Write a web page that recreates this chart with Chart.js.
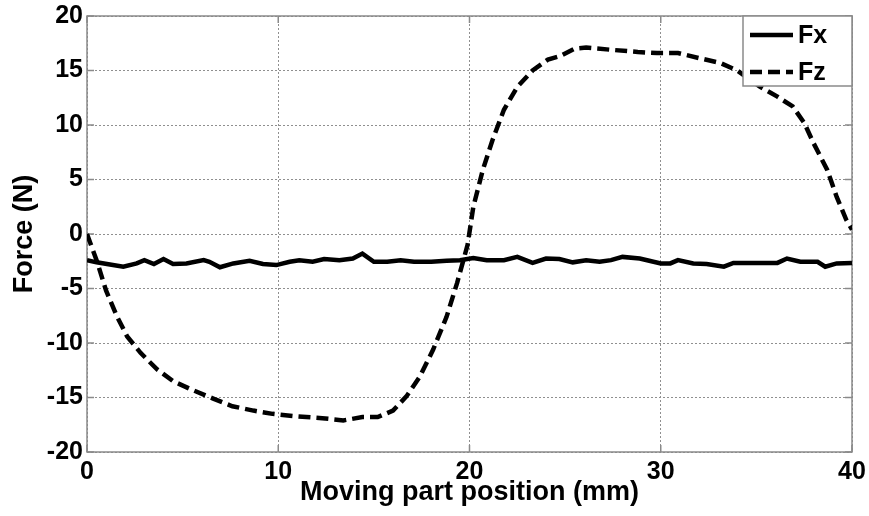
<!DOCTYPE html>
<html>
<head>
<meta charset="utf-8">
<script src="https://cdn.jsdelivr.net/npm/chart.js@4.4.1/dist/chart.umd.min.js"></script>
<style>
    html, body { margin: 0; padding: 0; background: #fff; }
    #wrap { width: 869px; height: 516px; }
</style>
</head>
<body>
<div id="wrap"><canvas id="forceChart" width="869" height="516"></canvas></div>
<script>
// Position of the moving part (mm) and the measured force components (N)
const fxPos = [0, 0.5, 1.2, 1.9, 2.6, 3.0, 3.5, 4.0, 4.5, 5.2, 6.1, 6.4, 6.95, 7.65, 8.5, 9.2, 9.9,
    10.6, 11.1, 11.8, 12.4, 13.2, 13.9, 14.4, 15.0, 15.7, 16.4, 17.1, 18.0, 18.8, 19.5, 20.2,
    20.9, 21.8, 22.5, 23.3, 24.0, 24.7, 25.4, 26.1, 26.8, 27.4, 28.0, 28.9, 29.4, 30.0, 30.5,
    30.9, 31.7, 32.4, 33.3, 33.8, 35.2, 36.1, 36.6, 37.3, 38.2, 38.6, 39.2, 40.0];
const fxVals = [-2.4, -2.6, -2.8, -3.0, -2.7, -2.4, -2.75, -2.3, -2.75, -2.7, -2.4, -2.55, -3.05, -2.7, -2.45, -2.75, -2.85,
    -2.55, -2.4, -2.55, -2.3, -2.4, -2.25, -1.8, -2.55, -2.55, -2.4, -2.55, -2.55, -2.45, -2.4, -2.2,
    -2.4, -2.4, -2.1, -2.65, -2.25, -2.3, -2.6, -2.4, -2.55, -2.4, -2.1, -2.25, -2.45, -2.7, -2.7,
    -2.4, -2.7, -2.75, -3.0, -2.65, -2.65, -2.65, -2.25, -2.55, -2.55, -3.0, -2.7, -2.65];

const fzPos = [0, 0.5, 1.0, 1.55, 2.1, 2.8, 3.65, 4.5, 5.5, 6.6, 7.6, 8.7, 9.7, 10.8, 12.3, 13.4,
    14.4, 15.2, 16.0, 16.7, 17.4, 18.1, 18.8, 19.35, 19.9, 20.2, 20.7, 21.2, 21.8, 22.5, 23.3,
    24.1, 24.7, 25.5, 26.1, 27.4, 28.8, 29.8, 30.9, 32.1, 33.1, 34.0, 35.2, 36.1, 36.9, 37.5,
    38.0, 38.7, 39.2, 39.7, 40.0];
const fzVals = [0, -2.4, -5.2, -7.5, -9.4, -10.9, -12.4, -13.5, -14.3, -15.1, -15.8, -16.2, -16.5, -16.7, -16.9, -17.1,
    -16.8, -16.8, -16.2, -14.9, -13.1, -10.6, -7.6, -4.5, -1.0, 2.5, 5.9, 8.6, 11.4, 13.5, 15.0,
    16.0, 16.3, 17.0, 17.1, 16.9, 16.7, 16.6, 16.6, 16.1, 15.7, 15.0, 13.5, 12.6, 11.7, 10.2,
    8.3, 5.9, 3.4, 1.3, 0.4];

const seriesNames = ['Fx', 'Fz'];
const xTicks = [0, 10, 20, 30, 40];
const yTicks = [-20, -15, -10, -5, 0, 5, 10, 15, 20];

const FONT = '"Liberation Sans", Arial, Helvetica, sans-serif';
const frameColor = '#8a8a8a';

function toPoints(xs, ys) {
    return xs.map((x, i) => ({ x: x, y: ys[i] }));
}

// box around the axes with short inward tick marks
const axisFrame = {
    id: 'axisFrame',
    beforeDatasetsDraw(chart) {
        const { ctx, chartArea: a, scales } = chart;
        ctx.save();
        ctx.strokeStyle = frameColor;
        ctx.lineWidth = 1.5;
        ctx.setLineDash([]);
        ctx.strokeRect(a.left, a.top, a.right - a.left, a.bottom - a.top);
        ctx.beginPath();
        xTicks.forEach(v => {
            const px = scales.x.getPixelForValue(v);
            ctx.moveTo(px, a.bottom); ctx.lineTo(px, a.bottom - 7);
            ctx.moveTo(px, a.top); ctx.lineTo(px, a.top + 7);
        });
        yTicks.forEach(v => {
            const py = scales.y.getPixelForValue(v);
            ctx.moveTo(a.left, py); ctx.lineTo(a.left + 7, py);
            ctx.moveTo(a.right, py); ctx.lineTo(a.right - 7, py);
        });
        ctx.stroke();
        ctx.restore();
    }
};

// legend box in the upper right corner of the plot
const cornerLegend = {
    id: 'cornerLegend',
    afterDraw(chart) {
        const { ctx, chartArea: a } = chart;
        const w = 109, h = 70;
        const x0 = a.right - w, y0 = a.top;
        ctx.save();
        ctx.fillStyle = '#fff';
        ctx.fillRect(x0, y0, w, h);
        ctx.strokeStyle = frameColor;
        ctx.lineWidth = 1.5;
        ctx.strokeRect(x0, y0, w, h);
        ctx.font = 'bold 25px ' + FONT;
        ctx.textBaseline = 'middle';
        chart.data.datasets.forEach((ds, i) => {
            const y = y0 + 19 + i * 37;
            ctx.strokeStyle = ds.borderColor;
            ctx.lineWidth = ds.borderWidth;
            ctx.setLineDash(ds.borderDash || []);
            ctx.beginPath();
            ctx.moveTo(x0 + 7, y);
            ctx.lineTo(x0 + 50, y);
            ctx.stroke();
            ctx.fillStyle = '#000';
            ctx.fillText(ds.label, x0 + 55, y + 1);
        });
        ctx.restore();
    }
};

const tickFont = { family: FONT, size: 25, weight: 'bold' };
const titleFont = { family: FONT, size: 27, weight: 'bold' };

new Chart(document.getElementById('forceChart'), {
    type: 'line',
    data: {
        datasets: [
            {
                label: seriesNames[0],
                data: toPoints(fxPos, fxVals),
                borderColor: '#000',
                borderWidth: 4.5,
                pointRadius: 0,
                tension: 0
            },
            {
                label: seriesNames[1],
                data: toPoints(fzPos, fzVals),
                borderColor: '#000',
                borderWidth: 4.5,
                borderDash: [12, 6],
                pointRadius: 0,
                tension: 0
            }
        ]
    },
    options: {
        responsive: false,
        animation: false,
        layout: { padding: { left: 0, right: 17, top: 16, bottom: 0 } },
        plugins: {
            legend: { display: false },
            tooltip: { enabled: false }
        },
        scales: {
            x: {
                type: 'linear',
                min: 0,
                max: 40,
                afterBuildTicks: s => { s.ticks = xTicks.map(v => ({ value: v })); },
                afterFit: s => { s.height = 64; s.paddingLeft = 0; s.paddingRight = 0; },
                ticks: { font: tickFont, color: '#000', padding: 5, maxRotation: 0 },
                grid: { color: '#8f8f8f', lineWidth: 1, drawTicks: false },
                border: { display: false, dash: [2, 2] },
                title: {
                    display: true,
                    text: 'Moving part position (mm)',
                    font: titleFont,
                    color: '#000',
                    padding: { top: 0, bottom: 7 }
                }
            },
            y: {
                min: -20,
                max: 20,
                afterBuildTicks: s => { s.ticks = yTicks.map(v => ({ value: v })); },
                afterFit: s => { s.width = 87; s.paddingTop = 0; s.paddingBottom = 0; },
                ticks: { font: tickFont, color: '#000', padding: 4 },
                grid: { color: '#8f8f8f', lineWidth: 1, drawTicks: false },
                border: { display: false, dash: [2, 2] },
                title: {
                    display: true,
                    text: 'Force (N)',
                    font: titleFont,
                    color: '#000',
                    padding: { top: 8, bottom: 0 }
                }
            }
        }
    },
    plugins: [axisFrame, cornerLegend]
});
</script>
</body>
</html>
